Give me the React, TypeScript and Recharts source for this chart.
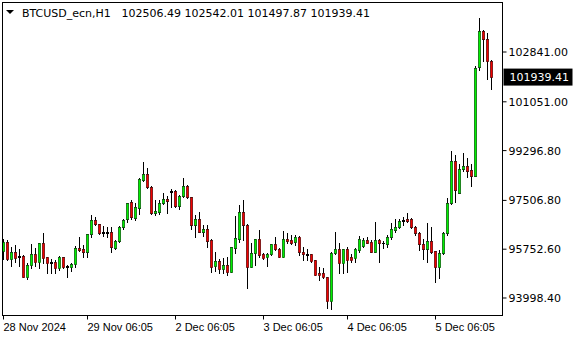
import React from 'react';
import { ComposedChart, Bar, XAxis, YAxis, ReferenceLine } from 'recharts';

const opens = [
  95699, 96011, 95411, 95652, 95508, 95508, 94764, 95174, 95580, 95303,
  95975, 95461, 95303, 95292, 95066, 95461, 95149, 95123, 95210, 95785,
  95760, 95663, 96299, 96791, 96648, 96371, 96324, 96371, 95806, 96036,
  96540, 96827, 97449, 96885, 97244, 98240, 98445, 97978, 97043, 97079,
  97424, 97546, 97845, 97845, 97316, 97654, 98024, 97618, 96633, 96838,
  96382, 96479, 96083, 95149, 95328, 95052, 95185, 94944, 95806, 96108,
  97090, 96612, 95123, 95605, 96108, 95569, 95483, 95569, 95929, 95771,
  95483, 96108, 96083, 96001, 96180, 95663, 95580, 95580, 95364, 94886,
  94886, 94743, 93901, 95605, 95760, 95267, 95760, 95461, 95425, 95735,
  95868, 96083, 96022, 95663, 96083, 95986, 95939, 96180, 96443, 96540,
  96755, 96827, 96827, 96540, 96324, 95929, 95749, 96036, 95688, 95123,
  95605, 96324, 97424, 98934, 97783, 98646, 98743, 98599, 98395, 102291,
  103585, 103298, 102506.49,
];
const highs = [
  96108, 96083, 95842, 95893, 95749, 95544, 95246, 95939, 95785, 95985,
  96346, 95470, 95400, 95364, 95508, 95470, 95174, 95267, 95868, 96202,
  95903, 96310, 96993, 96910, 96655, 96586, 96561, 96540, 96083, 96586,
  96827, 97424, 97521, 97413, 98312, 98876, 98661, 98014, 97521, 97521,
  97773, 97665, 97916, 97870, 97701, 98301, 98071, 97629, 96982, 97079,
  96612, 96622, 96108, 95641, 95400, 95425, 95483, 95842, 96957, 97331,
  97521, 96658, 95965, 96118, 96443, 95605, 95627, 95940, 96180, 95806,
  96407, 96324, 96263, 96263, 96227, 95842, 95749, 95590, 95375, 95102,
  95066, 94764, 95637, 96382, 95965, 95770, 95842, 95580, 95806, 96227,
  96144, 96180, 96083, 96720, 96108, 96047, 96263, 96705, 96827, 96827,
  96921, 97043, 96863, 96586, 96382, 96108, 96705, 96540, 95698, 95724,
  96382, 97582, 99282, 99139, 98815, 99200, 99020, 98815, 102338, 104063,
  103632, 103535, 102542.01,
];
const lows = [
  95390, 95364, 95149, 95292, 95149, 94750, 94692, 95066, 95149, 95088,
  95246, 94908, 94886, 94886, 94994, 95066, 94764, 94958, 95102, 95677,
  95483, 95483, 96180, 96622, 96299, 96227, 96202, 95652, 95760, 96011,
  96489, 96741, 96827, 96802, 97007, 98204, 97942, 97007, 96982, 97000,
  97367, 97065, 97280, 97259, 97198, 97629, 97604, 96479, 96202, 96371,
  96238, 95842, 94944, 94980, 94886, 94886, 94836, 94930, 95605, 96022,
  96083, 94369, 95110, 95185, 95483, 95389, 95149, 95544, 95724, 95461,
  95470, 95965, 95939, 95903, 95544, 95364, 95364, 95303, 94815, 94645,
  94707, 93650, 93614, 95580, 94908, 94908, 94944, 95303, 95303, 95663,
  95842, 95965, 95650, 95655, 95303, 95785, 95842, 96108, 96382, 96504,
  96612, 96741, 96504, 96263, 95724, 95400, 95303, 95605, 94584, 94707,
  95580, 96263, 97378, 97460, 97775, 98574, 98359, 98035, 98385, 102194,
  102528, 101860, 101497.87,
];
const closes = [
  96022, 95411, 95652, 95447, 95461, 94764, 95185, 95580, 95303, 95975,
  95447, 95267, 95267, 95088, 95472, 95123, 95123, 95221, 95796, 95724,
  95663, 96299, 96791, 96648, 96346, 96324, 96371, 95821, 96047, 96540,
  96791, 97402, 96899, 97269, 98276, 98445, 97978, 97043, 97108, 97431,
  97546, 97496, 97809, 97316, 97654, 98024, 97618, 96633, 96838, 96382,
  96479, 96058, 95123, 95328, 95052, 95185, 94944, 95832, 96144, 97090,
  96612, 95123, 95605, 96108, 95544, 95447, 95580, 95929, 95771, 95483,
  96108, 96058, 95986, 96180, 95663, 95569, 95555, 95339, 94825, 94836,
  94743, 93901, 95627, 95760, 95267, 95760, 95364, 95364, 95760, 96108,
  96083, 95986, 95663, 96083, 95965, 95965, 96180, 96468, 96540, 96755,
  96802, 96777, 96540, 96324, 95929, 95749, 96036, 95663, 95123, 95605,
  96324, 97431, 98934, 97881, 98625, 98743, 98574, 98395, 102255, 103585,
  103298, 102506, 101939.41,
];

const symbolName = 'BTCUSD_ecn,H1';
const yTicks = [93998.4, 95752.6, 97506.8, 99296.8, 101051.0, 102841.0];
const yDomain = [93369.3, 104620.4];
const xTickIdx = [0, 21, 43, 65, 86, 108];
const xTickLabels = ['28 Nov 2024', '29 Nov 06:05', '2 Dec 06:05', '3 Dec 06:05', '4 Dec 06:05', '5 Dec 06:05'];

const GREEN = '#00F000';
const RED = '#F00000';
const NUM_FONT = 'DejaVu Sans, Verdana, sans-serif';
const LBL_FONT = 'Liberation Sans, Arial, sans-serif';

const data = opens.map((o, i) => ({ i, open: o, high: highs[i], low: lows[i], close: closes[i] }));
const last = data.length - 1;

const Candle = (props: any) => {
  const { x, y, width, height, payload } = props;
  if (!payload || x == null) return null;
  const { open, close, high, low } = payload;
  const top = Math.min(y, y + height);
  const h = Math.abs(height);
  const span = high - low || 1;
  const py = (v: number) => top + ((high - v) / span) * h;
  const n = Math.floor(x + width / 2);
  const up = close >= open;
  const bt = Math.round(py(Math.max(open, close)));
  const bb = Math.round(py(Math.min(open, close)));
  const wt = Math.round(py(high));
  const wb = Math.round(py(low));
  const col = up ? GREEN : RED;
  const sw = 0.45;
  return (
    <g>
      <rect x={n} y={wt} width={1} height={wb - wt + 1} fill="#000" shapeRendering="crispEdges" />
      {bb - bt >= 2 ? (
        <rect
          x={n - 1 + sw / 2}
          y={bt + sw / 2}
          width={3 - sw}
          height={bb - bt + 1 - sw}
          fill={col}
          stroke="#000"
          strokeWidth={sw}
        />
      ) : (
        <rect x={n - 1} y={bt} width={3} height={bb - bt + 1} fill="#000" shapeRendering="crispEdges" />
      )}
    </g>
  );
};

const XTick = (props: any) => {
  const { x, y, payload } = props;
  const k = xTickIdx.indexOf(payload.value);
  if (k < 0) return null;
  return (
    <text x={x} y={y} dy={9.5} textAnchor="start" fontSize={11} fontFamily={LBL_FONT} fill="#000">
      {xTickLabels[k]}
    </text>
  );
};

const PriceTag = (p: any) => {
  const vb = p.viewBox;
  if (!vb) return null;
  const lx = vb.x + vb.width + 1;
  const ly = vb.y;
  return (
    <g>
      <rect x={lx} y={ly - 8.5} width={69} height={17} fill="#000" />
      <text x={lx + 6} y={ly + 4} fill="#fff" fontSize={11} fontFamily={NUM_FONT}>
        {closes[last].toFixed(2)}
      </text>
    </g>
  );
};

export default function App() {
  const headerNums = [opens[last], highs[last], lows[last], closes[last]].map((v) => v.toFixed(2)).join(' ');
  return (
    <div style={{ position: 'absolute', left: 0, top: 0, width: 580, height: 340, background: '#fff' }}>
      <ComposedChart
        width={580}
        height={340}
        data={data}
        margin={{ top: 2.5, right: 0, bottom: 0, left: 1 }}
      >
        <XAxis
          dataKey="i"
          type="category"
          height={24.5}
          padding={{ left: 0.5, right: 9 }}
          ticks={xTickIdx}
          interval={0}
          tick={<XTick />}
          tickLine={{ stroke: '#000' }}
          axisLine={false}
          tickSize={4}
        />
        <YAxis
          orientation="right"
          type="number"
          width={77.5}
          domain={yDomain}
          allowDataOverflow
          ticks={yTicks}
          interval={0}
          tickFormatter={(v: number) => v.toFixed(2)}
          tick={{ fill: '#000', fontSize: 11, fontFamily: NUM_FONT }}
          tickLine={{ stroke: '#000' }}
          axisLine={false}
          tickSize={4}
          tickMargin={2}
        />
        <Bar dataKey={(d: any) => [d.low, d.high]} shape={Candle} isAnimationActive={false} />
        <ReferenceLine y={closes[last]} stroke="none" label={PriceTag} />
      </ComposedChart>
      <svg width={580} height={340} style={{ position: 'absolute', left: 0, top: 0, pointerEvents: 'none' }}>
        <rect x={2.5} y={2.5} width={500} height={313} fill="none" stroke="#000" strokeWidth={1} />
        <polygon points="6,10 14,10 10,14" fill="#000" />
        <text x={22} y={17} fontSize={11} fontFamily={NUM_FONT} fill="#000">{symbolName}</text>
        <text x={121.5} y={17} fontSize={11} fontFamily={NUM_FONT} fill="#000">{headerNums}</text>
      </svg>
    </div>
  );
}
